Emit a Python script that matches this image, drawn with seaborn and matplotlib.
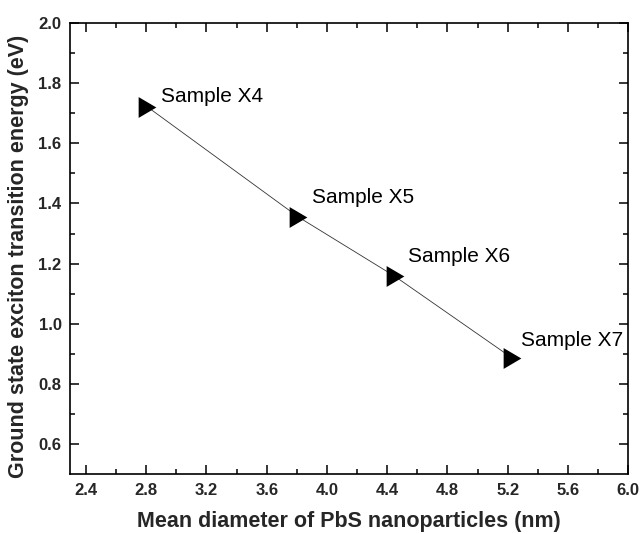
import matplotlib
matplotlib.use("Agg")
import matplotlib.pyplot as plt
import seaborn as sns
import pandas as pd
from matplotlib.path import Path

# PbS nanoparticle samples: mean diameter vs ground-state exciton transition energy
samples = ["Sample X4", "Sample X5", "Sample X6", "Sample X7"]
diameter_nm = [2.805, 3.81, 4.45, 5.23]
energy_ev = [1.722, 1.355, 1.158, 0.886]
x_ticks = [2.4, 2.8, 3.2, 3.6, 4.0, 4.4, 4.8, 5.2, 5.6, 6.0]
y_ticks = [0.6, 0.8, 1.0, 1.2, 1.4, 1.6, 1.8, 2.0]

df = pd.DataFrame({"sample": samples, "d": diameter_nm, "E": energy_ev})

sns.set_style("ticks")
plt.rcParams["font.family"] = ["Liberation Sans", "DejaVu Sans"]

# slightly narrow right-pointing triangle
tri_right = Path([(-0.85, 1.0), (0.85, 0.0), (-0.85, -1.0), (-0.85, 1.0)],
                 [Path.MOVETO, Path.LINETO, Path.LINETO, Path.CLOSEPOLY])

fig = plt.figure(figsize=(6.41, 5.34), dpi=100)
ax = fig.add_axes([0.109, 0.112, 0.871, 0.845])

sns.lineplot(data=df, x="d", y="E", ax=ax, color="#333333", linewidth=0.6,
             sort=False, zorder=1)
sns.lineplot(data=df, x="d", y="E", ax=ax, linestyle="none", marker=tri_right,
             markersize=15, color="black", markeredgecolor="black",
             markeredgewidth=0, sort=False, zorder=2)

# label offsets (points) for each sample annotation
offsets = [(10, 7), (10, 14), (9.5, 14.5), (6, 13)]
for name, x, y, off in zip(samples, diameter_nm, energy_ev, offsets):
    ax.annotate(name, (x, y), xytext=off, textcoords="offset points",
                ha="left", va="center", fontsize=15, color="black")

ax.set_xlim(2.293, 6.0)
ax.set_ylim(0.5, 2.0)
ax.set_xticks(x_ticks)
ax.set_yticks(y_ticks)
ax.set_xticklabels([f"{v:.1f}" for v in x_ticks])
ax.set_yticklabels([f"{v:.1f}" for v in y_ticks])
ax.set_xticks([2.6, 3.0, 3.4, 3.8, 4.2, 4.6, 5.0, 5.4, 5.8], minor=True)
ax.set_yticks([0.7, 0.9, 1.1, 1.3, 1.5, 1.7, 1.9], minor=True)

ax.tick_params(which="both", direction="in", top=True, right=True,
               width=1.1, color="black")
ax.tick_params(which="major", length=6.5, labelsize=12, pad=6)
ax.tick_params(which="minor", length=3.4)
for lab in ax.get_xticklabels() + ax.get_yticklabels():
    lab.set_fontweight("bold")

for sp in ax.spines.values():
    sp.set_linewidth(1.2)
    sp.set_color("black")

ax.set_xlabel("Mean diameter of PbS nanoparticles (nm)", fontsize=15.5,
              fontweight="bold", labelpad=10)
ax.set_ylabel("Ground state exciton transition energy (eV)", fontsize=15.5,
              fontweight="bold", labelpad=8)
ax.yaxis.set_label_coords(-0.073, 0.482)

fig.savefig("out.png", dpi=100, facecolor="white")
